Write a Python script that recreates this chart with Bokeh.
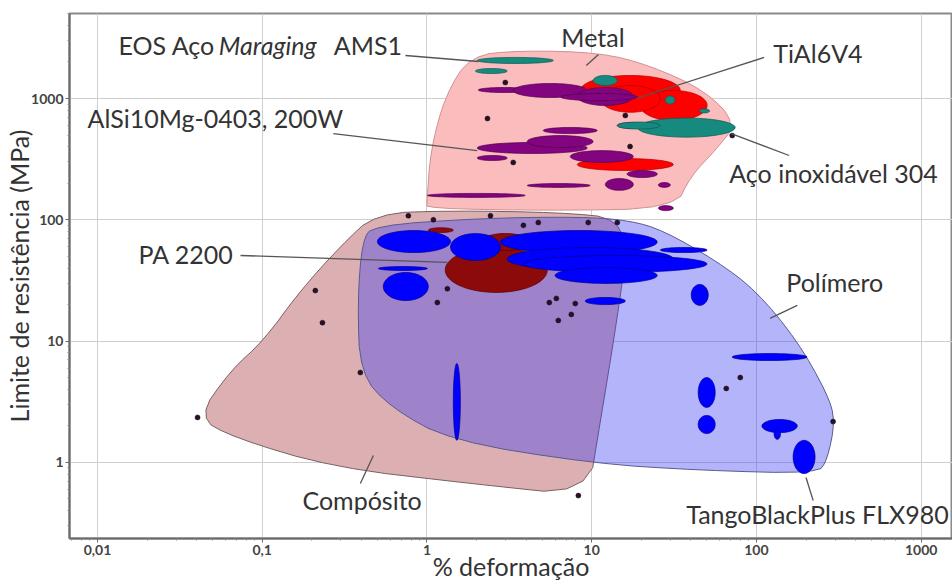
import numpy as np
from bokeh.plotting import figure
from bokeh.models import Range1d, FixedTicker, Label
from bokeh.embed import file_html
from bokeh.resources import INLINE

# ---------------- data (x: % deformação, y: MPa) ----------------
x_ticks = [0.01, 0.1, 1, 10, 100, 1000]
x_tick_labels = ["0,01", "0,1", "1", "10", "100", "1000"]
y_ticks = [1, 10, 100, 1000]
y_tick_labels = ["1", "10", "100", "1000"]

metal_env_x = [1.0, 1.05, 1.29, 1.83, 3.7, 11.3, 22.7, 49, 76, 56, 40, 32, 5.6, 1.0]
metal_env_y = [140, 370, 1060, 2260, 2490, 2390, 1870, 1160, 620, 370, 230, 124, 119, 124]

comp_env_x = [0.0405, 0.064, 0.102, 0.17, 0.30, 0.487, 1.39, 6.45, 14.9, 16.0, 13.9, 11.3, 9.5, 1.83, 0.27, 0.067]
comp_env_y = [2.35, 5.7, 10.1, 26, 61, 113, 119, 115, 103, 46, 12.2, 2.2, 0.53, 0.67, 0.91, 1.6]

poly_env_x = [0.473, 2.11, 8.53, 17.1, 27.2, 57, 99.7, 177, 269, 301, 269, 234, 45.6, 10.2, 1.39, 0.60, 0.393, 0.379, 0.405]
poly_env_y = [89.7, 103, 106, 98.6, 81.6, 46, 26, 10.1, 3.7, 2.21, 1.04, 0.81, 0.86, 0.98, 1.51, 2.84, 5.4, 21.6, 67.5]

# bubbles: (x_min, x_max, y_min, y_max)
red_ti = [(8.53, 34.5, 876, 1549), (19.7, 50.2, 659, 1164), (11.3, 26.1, 770, 1280),
          (8.18, 31.3, 255, 320)]
purple_al = [(2.05, 4.24, 1120, 1233), (3.34, 9.40, 1019, 1330), (8.18, 17.9, 876, 1233),
             (6.5, 19.0, 960, 1100), (2.02, 9.40, 352, 434), (4.06, 10.2, 394, 495),
             (5.08, 10.8, 514, 577), (7.41, 17.9, 297, 372), (2.02, 3.07, 308, 339),
             (16.4, 25.0, 223, 255), (12.1, 17.9, 175, 219), (25.4, 30.0, 185, 203),
             (4.06, 9.8, 185, 199), (1.006, 3.95, 153, 165), (25.4, 31.3, 119, 131),
             (14.3, 21.7, 566, 634)]
teal_steel = [(2.02, 5.85, 1943, 2180), (1.97, 3.07, 1606, 1766), (10.2, 14.3, 1280, 1549),
              (19.0, 74.3, 480, 690), (14.3, 26.0, 560, 640), (28.0, 32.0, 900, 1050),
              (45.0, 52.0, 760, 820)]
darkred_pa = [(1.29, 5.38, 25.2, 59.1), (2.11, 4.24, 55.8, 77.1), (1.019, 1.445, 78.5, 86.0),
              (1.45, 2.43, 63.0, 69.0)]
blue_poly = [(0.50, 1.39, 53.7, 81.6), (0.507, 1.006, 38.2, 41.2), (0.543, 1.019, 21.6, 36.8),
             (1.39, 2.79, 46.2, 77.1), (2.79, 25.0, 52.7, 81.6), (3.07, 31.3, 38.2, 59.1),
             (3.85, 50.2, 36.8, 50.8), (5.99, 25.0, 29.9, 40.4), (26.1, 50.2, 53.7, 59.1),
             (9.14, 16.0, 20.0, 22.9), (40.2, 51.0, 19.7, 29.3), (71.3, 203, 6.92, 7.9),
             (44.3, 56.2, 2.84, 5.01), (44.3, 56.2, 1.73, 2.44), (108, 177, 1.76, 2.26),
             (128, 140, 1.55, 1.9), (167, 227, 0.81, 1.52), (1.445, 1.595, 1.52, 6.54)]

dots_x = [2.99, 2.33, 3.34, 16.0, 17.1, 71.3, 0.0405, 0.21, 0.232, 0.771, 1.094, 8.3, 0.394,
          2.43, 6.27, 1.156, 5.53, 6.1, 7.95, 7.52, 79.8, 65.6, 292, 9.53, 14.3, 3.85, 4.74, 1.33]
dots_y = [1355, 684, 297, 724, 402, 495, 2.35, 26.1, 14.2, 108, 100, 0.533, 5.51,
          108, 14.8, 20.8, 20.8, 22.5, 20.4, 16.6, 5.01, 4.07, 2.17, 95, 95, 90, 95, 27]

labels = [("Metal", 6.54, 3243), ("TiAl6V4", 126.5, 2393), ("AlSi10Mg-0403, 200W", 0.0087, 697),
          ("Aço inoxidável 304", 68.4, 241), ("PA 2200", 0.01774, 52.7), ("Polímero", 151.8, 31.0),
          ("Compósito", 0.1754, 0.494), ("TangoBlackPlus FLX980", 37.5, 0.379)]
leaders = [((0.740, 2.05), (2262, 2018)), ((0.270, 2.02), (514, 372)), ((0.0738, 1.33), (50.8, 44.5)),
           ((9.27, 11.0), (1871, 2306)), ((111.4, 18.6), (2180, 1000)), ((70.3, 158), (514, 339)),
           ((121, 177), (15.4, 19.7)), ((0.394, 0.473), (0.670, 1.14)), ((200, 221), (0.751, 0.485))]
x_title = "% deformação"
y_title = "Limite de resistência (MPa)"


def chaikin(xs, ys, n=2):
    pts = np.column_stack([np.log10(xs), np.log10(ys)])
    for _ in range(n):
        nxt = np.roll(pts, -1, axis=0)
        q = 0.75 * pts + 0.25 * nxt
        r = 0.25 * pts + 0.75 * nxt
        out = np.empty((2 * len(q), 2))
        out[0::2] = q
        out[1::2] = r
        pts = out
    return list(10 ** pts[:, 0]), list(10 ** pts[:, 1])


def ellipses(items, n=48):
    t = np.linspace(0, 2 * np.pi, n, endpoint=False)
    xs, ys = [], []
    for x0, x1, y0, y1 in items:
        cx = (np.log10(x0) + np.log10(x1)) / 2
        rx = (np.log10(x1) - np.log10(x0)) / 2
        cy = (np.log10(y0) + np.log10(y1)) / 2
        ry = (np.log10(y1) - np.log10(y0)) / 2
        xs.append(list(10 ** (cx + rx * np.cos(t))))
        ys.append(list(10 ** (cy + ry * np.sin(t))))
    return xs, ys


FONT = "Lato"
TXT = "#333333"
FS = "25px"

p = figure(width=952, height=585, x_axis_type="log", y_axis_type="log",
           x_range=Range1d(0.00676, 1550), y_range=Range1d(0.236, 5020),
           output_backend="svg", toolbar_location=None,
           min_border_left=69, min_border_right=0, min_border_top=13, min_border_bottom=47)
p.background_fill_color = "white"
p.border_fill_color = "white"
p.outline_line_color = "#8a8a8a"
p.outline_line_width = 2

minor_x = [m * 10.0 ** k for k in range(-3, 4) for m in range(2, 10)]
minor_y = [m * 10.0 ** k for k in range(-1, 4) for m in range(2, 10)]
p.xaxis.ticker = FixedTicker(ticks=x_ticks, minor_ticks=minor_x)
p.yaxis.ticker = FixedTicker(ticks=y_ticks, minor_ticks=minor_y)
p.xaxis.major_label_overrides = {t: l for t, l in zip(x_ticks, x_tick_labels)}
p.yaxis.major_label_overrides = {t: l for t, l in zip(y_ticks, y_tick_labels)}
for ax in (p.xaxis, p.yaxis):
    ax.axis_line_color = "#6a6a6a"
    ax.axis_line_width = 2
    ax.major_tick_line_color = "#6a6a6a"
    ax.major_tick_out = 4
    ax.major_tick_in = 0
    ax.minor_tick_line_color = "#8a8a8a"
    ax.minor_tick_out = 2
    ax.minor_tick_in = 0
    ax.major_label_text_font = FONT
    ax.major_label_text_font_size = "14px"
    ax.major_label_text_font_style = "bold"
    ax.major_label_text_color = "#444444"
    ax.axis_label_text_font = FONT
    ax.axis_label_text_font_size = "25px"
    ax.axis_label_text_font_style = "normal"
    ax.axis_label_text_color = TXT
p.xaxis.axis_label = x_title
p.yaxis.axis_label = y_title
p.xaxis.major_label_standoff = 2
p.yaxis.major_label_standoff = 2
p.xaxis.axis_label_standoff = -7
p.yaxis.axis_label_standoff = -6
p.xgrid.grid_line_color = "#cfcfcf"
p.ygrid.grid_line_color = "#cfcfcf"

# envelopes
cx, cy = chaikin(comp_env_x, comp_env_y)
p.patch(cx, cy, fill_color="#dcb0b3", line_color="#7a6060", line_width=1)
px_, py_ = chaikin(poly_env_x, poly_env_y)
p.patch(px_, py_, fill_color="#3737f1", fill_alpha=0.375, line_color="#5a5a90", line_width=1)
mx, my = chaikin(metal_env_x, metal_env_y)
p.patch(mx, my, fill_color="#fabcbc", line_color="#d09090", line_width=1)

# bubbles
for items, fc, lc in [(darkred_pa, "#8c0a0a", "#5a0000"), (blue_poly, "#0000ff", "#00008b"),
                      (red_ti, "#ff0000", "#b00000"), (purple_al, "#82047e", "#500050"),
                      (teal_steel, "#168a7e", "#0d5a52")]:
    ex, ey = ellipses(items)
    p.patches(ex, ey, fill_color=fc, line_color=lc, line_width=0.7)

p.scatter(dots_x, dots_y, size=5, fill_color="#2a1020", line_color="#101030", line_width=0.5)

for (lx, ly) in leaders:
    p.line(list(lx), list(ly), line_color="#555555", line_width=1.3)

for txt, x, y in labels:
    p.add_layout(Label(x=x, y=y, text=txt, text_font=FONT, text_font_size=FS,
                       text_color=TXT, text_baseline="middle", text_align="left"))
# EOS Aço Maraging AMS1 (mixed style)
p.add_layout(Label(x=0.0134, y=2735, text="EOS Aço", text_font=FONT, text_font_size=FS,
                   text_color=TXT, text_baseline="middle"))
p.add_layout(Label(x=0.0545, y=2735, text="Maraging", text_font=FONT, text_font_size=FS,
                   text_font_style="italic", text_color=TXT, text_baseline="middle"))
p.add_layout(Label(x=0.272, y=2735, text="AMS1", text_font=FONT, text_font_size=FS,
                   text_color=TXT, text_baseline="middle"))

open("out.html", "w").write(file_html(p, INLINE))
